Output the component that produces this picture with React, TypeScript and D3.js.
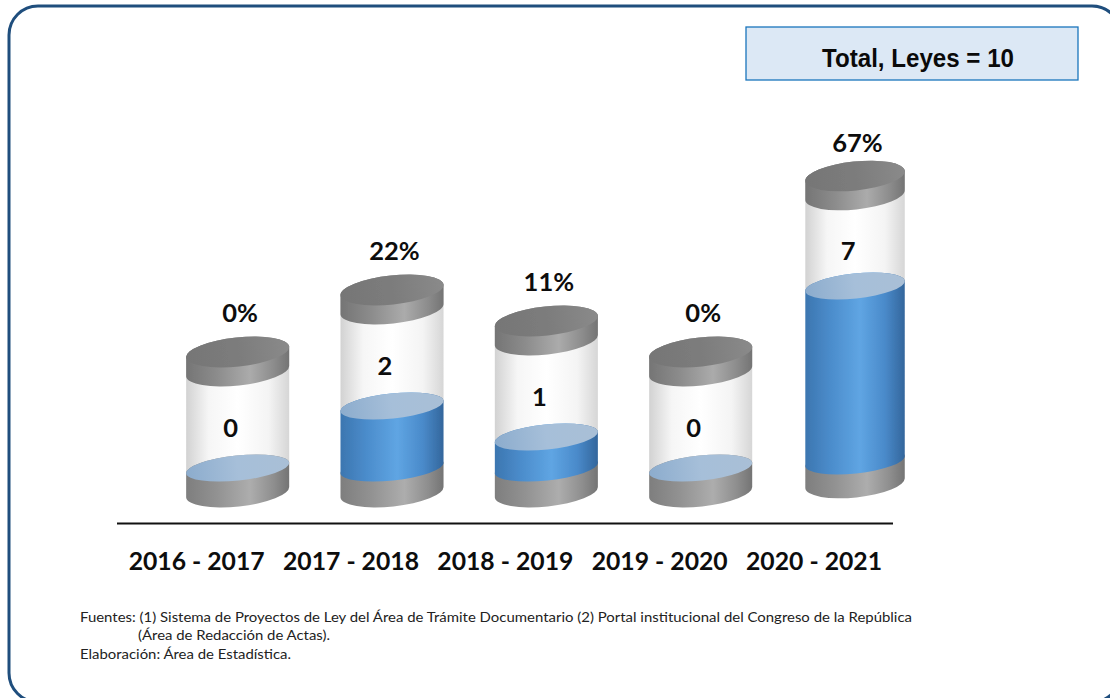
import React from "react";
import * as d3 from "d3";

const categories = ["2016 - 2017", "2017 - 2018", "2018 - 2019", "2019 - 2020", "2020 - 2021"];
const counts = [0, 2, 1, 0, 7];
const percentLabels = ["0%", "22%", "11%", "0%", "67%"];
const totalLabel = "Total, Leyes = 10";
const footerLines = [
  "Fuentes: (1) Sistema de Proyectos de Ley del Área de Trámite Documentario (2) Portal institucional del Congreso de la República",
  "(Área de Redacción de Actas).",
  "Elaboración: Área de Estadística.",
];

const W = 1110;
const H = 698;
const CALIBRI = "Lato, 'Open Sans', sans-serif";
const ARIAL = "'Liberation Sans', Arial, sans-serif";
const TILT = 6;
const RAD = (TILT * Math.PI) / 180;
const CAP_RY = 14.5;
const LEVEL_RY = 12.5;

// The reference compresses the tall bar, so its value axis is piecewise.
const x = d3.scaleBand<string>().domain(categories).range([160.5, 932.2]);
const fillY = d3.scaleLinear().domain([0, 2, 7]).range([468, 406, 286]);
const capGap = d3.scaleLinear().domain([0, 2, 7]).range([116, 116, 110]);
const zeroY = (c: number) => (c === 7 ? 461 : 468);
const floorY = (c: number) => (c === 7 ? 483 : 492);
const radius = (c: number) => (c === 7 ? 50 : 51.8);

function segment(cx: number, yTop: number, yBot: number, rx: number, ryTop: number, ryBot: number) {
  const dx = rx * Math.cos(RAD);
  const dy = rx * Math.sin(RAD);
  const p = d3.path();
  p.moveTo(cx - dx, yTop + dy);
  p.lineTo(cx - dx, yBot + dy);
  const lower = `A${rx} ${ryBot} ${-TILT} 0 0 ${cx + dx} ${yBot - dy}`;
  const upper = `A${rx} ${ryTop} ${-TILT} 0 0 ${cx - dx} ${yTop + dy}`;
  return `${p.toString()}${lower}L${cx + dx} ${yTop - dy}${upper}Z`;
}

function Grad({ id, stops }: { id: string; stops: [number, string][] }) {
  return (
    <linearGradient id={id} x1="0" x2="1" y1="0" y2="0">
      {stops.map(([o, c]) => (
        <stop key={o} offset={o} stopColor={c} />
      ))}
    </linearGradient>
  );
}

function Cylinder({ cat, count }: { cat: string; count: number }) {
  const cx = x(cat)! + x.bandwidth() / 2;
  const rx = radius(count);
  const fy = fillY(count);
  const top = fy - capGap(count);
  const z = zeroY(count);
  const floor = floorY(count);
  const ell = (y: number, ry: number, fill: string) => (
    <ellipse cx={cx} cy={y} rx={rx} ry={ry} fill={fill} transform={`rotate(${-TILT} ${cx} ${y})`} />
  );
  return (
    <g filter="url(#soft)">
      <path d={segment(cx, top, fy, rx, CAP_RY, LEVEL_RY)} fill="url(#glass)" />
      <path d={segment(cx, z, floor, rx, LEVEL_RY, CAP_RY)} fill="url(#base)" />
      {count > 0 && <path d={segment(cx, fy, z, rx, LEVEL_RY, LEVEL_RY)} fill="url(#blue)" />}
      {ell(fy, LEVEL_RY, "url(#level)")}
      <path d={segment(cx, top, top + 19, rx, CAP_RY, CAP_RY)} fill="url(#band)" />
      {ell(top, CAP_RY, "url(#cap)")}
    </g>
  );
}

export default function App() {
  return (
    <svg
      width={W}
      height={H}
      viewBox={`0 0 ${W} ${H}`}
      style={{ position: "fixed", left: 0, top: 0, background: "#fff", display: "block" }}
    >
      <defs>
        <filter id="soft" x="-5%" y="-5%" width="110%" height="110%">
          <feGaussianBlur stdDeviation="0.5" />
        </filter>
        <Grad id="glass" stops={[[0, "#d2d2d2"], [0.22, "#f6f6f6"], [0.5, "#ffffff"], [0.8, "#f4f4f4"], [1, "#d6d6d6"]]} />
        <Grad id="base" stops={[[0, "#7e7e7e"], [0.3, "#929292"], [0.62, "#adadad"], [0.85, "#8e8e8e"], [1, "#747474"]]} />
        <Grad id="band" stops={[[0, "#757575"], [0.3, "#8c8c8c"], [0.62, "#ababab"], [0.85, "#8c8c8c"], [1, "#747474"]]} />
        <Grad id="cap" stops={[[0, "#767676"], [0.5, "#7c7c7c"], [1, "#8a8a8a"]]} />
        <Grad id="blue" stops={[[0, "#3c76b0"], [0.25, "#4b8ccb"], [0.55, "#5fa5e3"], [0.8, "#4a8aca"], [1, "#33669c"]]} />
        <Grad id="level" stops={[[0, "#8caccd"], [0.5, "#a6bfd9"], [1, "#a9bfd6"]]} />
      </defs>
      <rect x={9} y={6} width={1112} height={696} rx={29} fill="#fff" stroke="#1f4e7d" strokeWidth={3} />
      <rect x={746} y={27} width={332} height={53} fill="#dce8f5" stroke="#1a75bc" strokeWidth={1.3} />
      <text x={822} y={67} textLength={192} lengthAdjust="spacingAndGlyphs" fontFamily={ARIAL} fontWeight="bold" fontSize={25} fill="#0a0a0a">
        {totalLabel}
      </text>

      {categories.map((c, i) => (
        <Cylinder key={c} cat={c} count={counts[i]} />
      ))}

      {categories.map((c, i) => {
        const cx = x(c)! + x.bandwidth() / 2;
        const fy = fillY(counts[i]);
        const top = fy - capGap(counts[i]);
        return (
          <g key={c} fontFamily={CALIBRI} fontWeight="bold" fill="#0d0d0d" textAnchor="middle">
            <text x={cx + 2.5} y={top - (counts[i] === 7 ? 24 : 30)} fontSize={25.5}>
              {percentLabels[i]}
            </text>
            <text x={cx - 7} y={fy - (counts[i] === 7 ? 26 : 31)} fontSize={25.5}>
              {counts[i]}
            </text>
            <text x={cx - 41} y={570} fontSize={25} textLength={136} lengthAdjust="spacingAndGlyphs">
              {c}
            </text>
          </g>
        );
      })}

      <line x1={117} x2={893} y1={523.5} y2={523.5} stroke="#111" strokeWidth={2} />

      <g fontFamily={CALIBRI} fontSize={14} fill="#222" lengthAdjust="spacingAndGlyphs">
        <text x={80} y={622} textLength={832} lengthAdjust="spacingAndGlyphs">{footerLines[0]}</text>
        <text x={138} y={640} textLength={192} lengthAdjust="spacingAndGlyphs">{footerLines[1]}</text>
        <text x={80} y={659} textLength={211} lengthAdjust="spacingAndGlyphs">{footerLines[2]}</text>
      </g>
    </svg>
  );
}
